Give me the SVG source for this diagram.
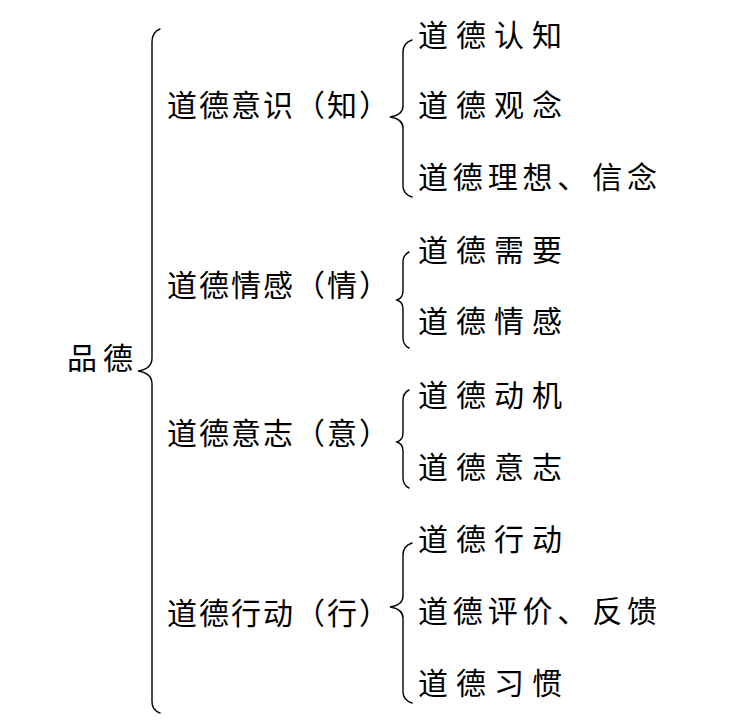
<svg xmlns="http://www.w3.org/2000/svg" width="735" height="723" viewBox="0 0 735 723">
<style>
text{font-family:"Noto Sans CJK SC","Noto Sans CJK JP",sans-serif;font-size:30px;fill:#000;}
.b{fill:none;stroke:#000;stroke-width:1.4;stroke-linecap:round;}
</style>
<rect width="735" height="723" fill="#fff"/>
<g id="connectors">
<path class="b" d="M160,29 Q152,32 152,42 V358 Q152,369 138,371 Q152,373 152,384 V702 Q152,710 160,713"/>
<path class="b" d="M412,40 Q403,43 403,52 V106 Q403,115 390,117 Q403,119 403,128 V186 Q403,194 412,197"/>
<path class="b" d="M409,252 Q403,255 403,262 V291 Q403,298 397,300 Q403,302 403,309 V338 Q403,345 409,348"/>
<path class="b" d="M409,390 Q403,393 403,400 V433 Q403,440 397,442 Q403,444 403,451 V478 Q403,485 409,488"/>
<path class="b" d="M412,543 Q403,546 403,555 V596 Q403,605 390,607 Q403,609 403,618 V692 Q403,700 412,703"/>
</g>
<g id="n-pinde"><text x="67" y="369" textLength="66" lengthAdjust="spacing">品德</text></g>
<g id="n-zhi"><text x="167" y="116" textLength="222" lengthAdjust="spacing">道德意识（知）</text></g>
<g id="n-qing"><text x="167" y="296" textLength="222" lengthAdjust="spacing">道德情感（情）</text></g>
<g id="n-yi"><text x="167" y="444" textLength="222" lengthAdjust="spacing">道德意志（意）</text></g>
<g id="n-xing"><text x="167" y="624" textLength="222" lengthAdjust="spacing">道德行动（行）</text></g>
<g id="n-renzhi"><text x="418" y="46" textLength="144" lengthAdjust="spacing">道德认知</text></g>
<g id="n-guannian"><text x="418" y="116" textLength="144" lengthAdjust="spacing">道德观念</text></g>
<g id="n-lixiang"><text x="418" y="188" textLength="239" lengthAdjust="spacing">道德理想、信念</text></g>
<g id="n-xuyao"><text x="418" y="261" textLength="144" lengthAdjust="spacing">道德需要</text></g>
<g id="n-qinggan"><text x="418" y="332" textLength="144" lengthAdjust="spacing">道德情感</text></g>
<g id="n-dongji"><text x="418" y="406" textLength="144" lengthAdjust="spacing">道德动机</text></g>
<g id="n-yizhi"><text x="418" y="478" textLength="144" lengthAdjust="spacing">道德意志</text></g>
<g id="n-xingdong"><text x="418" y="550" textLength="144" lengthAdjust="spacing">道德行动</text></g>
<g id="n-pingjia"><text x="418" y="622" textLength="239" lengthAdjust="spacing">道德评价、反馈</text></g>
<g id="n-xiguan"><text x="418" y="694" textLength="144" lengthAdjust="spacing">道德习惯</text></g>
</svg>
